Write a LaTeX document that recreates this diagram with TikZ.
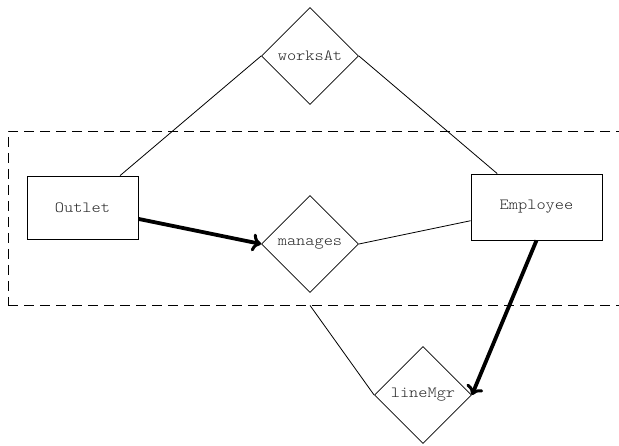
\documentclass[tikz,border=0pt]{standalone}
\usepackage{fontspec}
\setmonofont{Latin Modern Mono Light}[FakeStretch=1.13]
\usetikzlibrary{shapes.geometric,arrows.meta}
\begin{document}
\begin{tikzpicture}[x=1pt,y=-1pt,
  every node/.style={font=\ttfamily\fontsize{15.5}{17}\selectfont, text=black!85},
  entity/.style={draw, line width=0.8pt, rectangle, inner sep=0pt},
  relation/.style={draw, line width=0.8pt, diamond, aspect=1, inner sep=0pt, minimum size=97pt},
  link/.style={line width=0.8pt},
  keyarrow/.style={line width=3.8pt, -{Computer Modern Rightarrow[length=9pt,width=18pt,line width=3pt]}},
  aggbox/.style={draw, dashed, dash pattern=on 10pt off 6pt, line width=0.8pt, rectangle, inner sep=0pt}]
  \useasboundingbox (0,0) rectangle (619,446);
  \clip (0,0) rectangle (619,446);

  % aggregation around Outlet -- manages -- Employee
  \node[aggbox, minimum width=622pt, minimum height=174pt] (agg) at (319,218) {};

  % entities
  \node[entity, minimum width=111pt, minimum height=63pt] (Outlet) at (82.5,207.5) {Outlet};
  \node[entity, minimum width=131pt, minimum height=66pt] (Employee) at (536.5,207) {Employee};

  % relationships
  \node[relation] (worksAt) at (310,56) {worksAt};
  \node[relation] (manages) at (310,244) {manages};
  \node[relation] (lineMgr) at (423,395) {lineMgr};

  \coordinate (aggfoot) at (manages |- agg.south);

  % connectors
  \draw[link] (worksAt.west) -- (Outlet);
  \draw[link] (worksAt.east) -- (Employee);
  \draw[link] (manages.east) -- (Employee);
  \draw[link] (lineMgr.west) -- (aggfoot);
  \draw[keyarrow] (Outlet) -- (manages.west);
  \draw[keyarrow] (Employee.south) -- (lineMgr.east);
\end{tikzpicture}
\end{document}
